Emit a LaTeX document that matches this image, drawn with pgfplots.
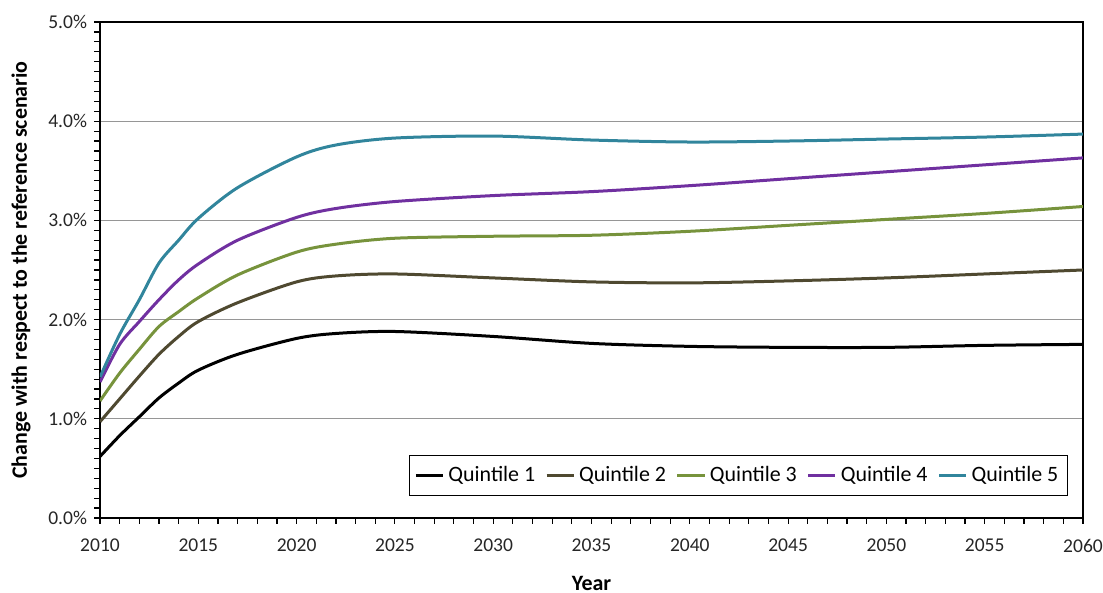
\documentclass[border=0pt]{standalone}
\usepackage{fontspec}
\setmainfont{Carlito}
\usepackage{pgfplots}
\pgfplotsset{compat=1.18}

\definecolor{qone}{RGB}{0,0,0}
\definecolor{qtwo}{RGB}{79,73,48}
\definecolor{qthree}{RGB}{119,147,60}
\definecolor{qfour}{RGB}{112,48,160}
\definecolor{qfive}{RGB}{49,133,156}
\definecolor{gridgray}{RGB}{150,150,150}

\begin{document}
\begin{tikzpicture}
\begin{axis}[
name=ax,
scale only axis,
width=491.5bp, height=248bp,
xmin=2010, xmax=2060,
ymin=0, ymax=5,
xtick={2010,2015,...,2060},
ytick={0,1,2,3,4,5},
yticklabels={0.0\%,1.0\%,2.0\%,3.0\%,4.0\%,5.0\%},
minor x tick num=4,
minor y tick num=9,
tick align=outside,
tick pos=left,
major tick length=3bp,
minor tick length=3bp,
every tick/.style={black, line width=0.6pt},
/pgf/number format/1000 sep={},
/pgf/number format/assume math mode=true,
ticklabel style={font=\fontsize{9.8}{11}\selectfont, color=black!85},
xticklabel style={yshift=-4bp},
ymajorgrids,
y grid style={gridgray, line width=0.6pt},
axis line style={black, line width=0.8pt},
xlabel={\textbf{Year}},
ylabel={\textbf{Change with respect to the reference scenario}},
label style={font=\fontsize{11}{13}\selectfont},
xlabel style={yshift=-5bp},
ylabel style={yshift=2bp},
legend columns=5,
legend style={at={(0.9847,0.0444)}, anchor=south east, draw=black, line width=0.6pt,
  font=\fontsize{11}{13}\selectfont, inner xsep=2.5bp, inner ysep=3.5bp,
  /tikz/every even column/.append style={column sep=3bp}},
legend image code/.code={\draw[#1, line width=1.5bp] (0bp,0bp) -- (13.5bp,0bp);},
every axis plot/.append style={line width=1.5bp, smooth, tension=0.5, no marks},
]
\addplot[qone] table {
2010 0.62
2011 0.83
2012 1.02
2013 1.21
2014 1.36
2015 1.49
2017 1.65
2020 1.81
2022 1.86
2025 1.88
2030 1.83
2035 1.76
2040 1.73
2045 1.72
2050 1.72
2055 1.74
2060 1.75
};
\addlegendentry{Quintile 1}
\addplot[qtwo] table {
2010 0.97
2011 1.20
2012 1.43
2013 1.65
2014 1.83
2015 1.98
2017 2.17
2020 2.38
2022 2.44
2025 2.46
2030 2.42
2035 2.38
2040 2.37
2045 2.39
2050 2.42
2055 2.46
2060 2.50
};
\addlegendentry{Quintile 2}
\addplot[qthree] table {
2010 1.18
2011 1.46
2012 1.70
2013 1.93
2014 2.08
2015 2.22
2017 2.45
2020 2.68
2022 2.76
2025 2.82
2030 2.84
2035 2.85
2040 2.89
2045 2.95
2050 3.01
2055 3.07
2060 3.14
};
\addlegendentry{Quintile 3}
\addplot[qfour] table {
2010 1.37
2011 1.75
2012 1.98
2013 2.20
2014 2.40
2015 2.56
2017 2.80
2020 3.03
2022 3.12
2025 3.19
2030 3.25
2035 3.29
2040 3.35
2045 3.42
2050 3.49
2055 3.56
2060 3.63
};
\addlegendentry{Quintile 4}
\addplot[qfive] table {
2010 1.42
2011 1.85
2012 2.20
2013 2.57
2014 2.80
2015 3.02
2017 3.33
2020 3.64
2022 3.76
2025 3.83
2030 3.85
2035 3.81
2040 3.79
2045 3.80
2050 3.82
2055 3.84
2060 3.87
};
\addlegendentry{Quintile 5}
\end{axis}
\draw[black, line width=0.5pt] (ax.north west) -- (ax.north east) -- (ax.south east);
\pgfresetboundingbox
\path ([xshift=-50bp,yshift=-37.5bp]ax.south west) rectangle ([xshift=10bp,yshift=11bp]ax.north east);
\end{tikzpicture}
\end{document}
